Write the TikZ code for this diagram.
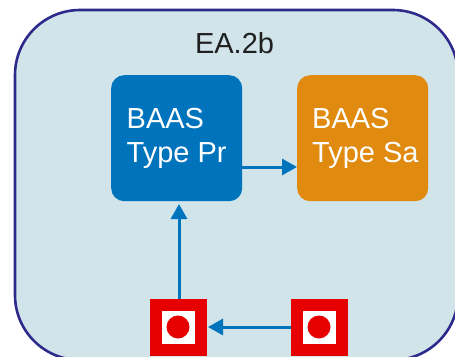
\documentclass[tikz,border=0pt]{standalone}
\usepackage{fontspec}
\setmainfont{Liberation Sans}
\usetikzlibrary{arrows.meta}
\definecolor{panel}{HTML}{D0E4EA}
\definecolor{edgeblue}{HTML}{2E2A8C}
\definecolor{prblue}{HTML}{0073BD}
\definecolor{saorange}{HTML}{E08A0F}
\definecolor{sigred}{HTML}{E60000}
\tikzset{
  x=1pt,y=-1pt,
  baas/.style={rounded corners=13pt,minimum width=131pt,minimum height=126pt,inner sep=0pt,anchor=north west},
  baastext/.style={text=white,anchor=base west,inner sep=0pt,font=\fontsize{29}{34}\selectfont},
  link/.style={draw=prblue,line width=3pt,-{Triangle[length=15pt,width=16pt]}},
  sigbox/.style={fill=sigred,minimum size=57pt,inner sep=0pt,anchor=north west},
  sigwhite/.style={fill=white,minimum size=33pt,inner sep=0pt},
  sigdot/.style={circle,fill=sigred,minimum size=23pt,inner sep=0pt}
}
\begin{document}
\begin{tikzpicture}
\useasboundingbox (0,0) rectangle (455,356);
\clip (0,0) rectangle (455,356);
\draw[draw=edgeblue,fill=panel,line width=2.6pt,rounded corners=65pt] (15,10) rectangle (458,360);
\node[font=\fontsize{29}{34}\selectfont,text=black!88,anchor=base,inner sep=0pt] (title) at (234.5,53) {EA.2b};
\node[baas,fill=prblue] (pr) at (111,75) {};
\node[baas,fill=saorange] (sa) at (297,75) {};
\node[baastext] (prl1) at (126.5,128) {BAAS};
\node[baastext] (prl2) at (126.5,162) {Type Pr};
\node[baastext] (sal1) at (312,128) {BAAS};
\node[baastext] (sal2) at (312,162) {Type Sa};
\node[sigbox] (s1) at (150,299) {};
\node[sigbox] (s2) at (291,299) {};
\node[sigwhite] (w1) at (178.5,327.5) {};
\node[sigwhite] (w2) at (319.5,327.5) {};
\node[sigdot] (d1) at (178,327) {};
\node[sigdot] (d2) at (319,327) {};
\coordinate (prout) at (241,167);
\coordinate (srcup) at (179,299);
\coordinate (prin) at (179,204);
\coordinate (s1in) at (208,327);
\draw[link] (prout) -- (sa.west |- prout);
\draw[link] (srcup) -- (prin);
\draw[link] (s2.west |- s1in) -- (s1in);
\end{tikzpicture}
\end{document}
